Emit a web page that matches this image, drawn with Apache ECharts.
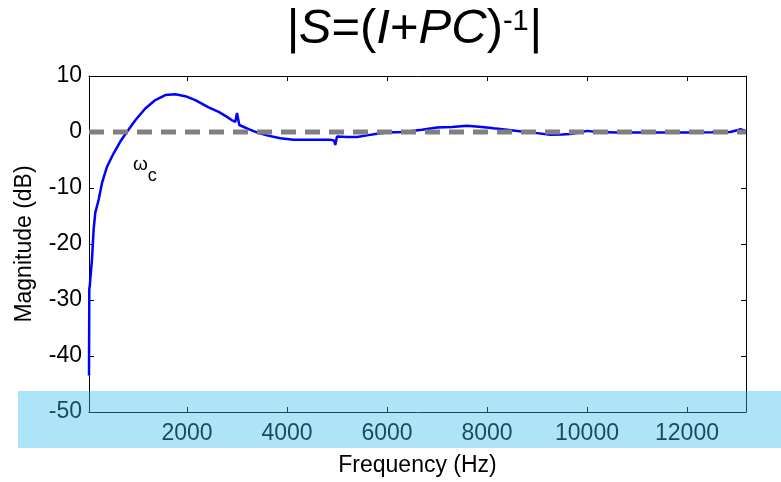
<!DOCTYPE html>
<html>
<head>
<meta charset="utf-8">
<script src="https://cdn.jsdelivr.net/npm/echarts@6/dist/echarts.min.js"></script>
<style>html,body{margin:0;padding:0;background:#fff}#c{width:781px;height:482px}</style>
</head>
<body>
<div id="c"></div>
<script>
// Frequency (Hz) samples and |S| magnitude (dB)
const freqHz = [40, 46, 46, 56, 66, 100, 133, 166, 233, 300, 400, 533, 666, 800, 966, 1166, 1366, 1566, 1766, 1966, 2166, 2433, 2633, 2800, 2900, 2966, 3000, 3046, 3233, 3433, 3600, 3866, 4133, 4500, 4866, 4940, 4966, 5000, 5200, 5400, 5600, 5800, 6000, 6330, 6700, 7000, 7300, 7600, 7900, 8133, 8400, 8733, 9000, 9266, 9500, 9666, 9850, 10000, 10200, 10600, 11000, 11500, 12000, 12500, 12866, 13000, 13066, 13180];
const magDb  = [-43.5, -43.5, -28, -27.5, -26.3, -22.7, -17.4, -14.4, -12.1, -9.1, -6.2, -3.8, -1.7, 0.05, 2.1, 4.2, 5.7, 6.6, 6.75, 6.4, 5.7, 4.4, 3.6, 2.7, 2.1, 1.8, 3.4, 1.25, 0.5, -0.2, -0.6, -1.1, -1.4, -1.4, -1.4, -1.5, -2.3, -0.8, -0.9, -0.9, -0.6, -0.3, -0.1, 0.0, 0.4, 0.8, 0.9, 1.1, 0.9, 0.65, 0.4, 0.05, -0.2, -0.5, -0.45, -0.35, -0.1, 0.2, 0.0, -0.1, -0.1, -0.1, -0.1, -0.05, 0.0, 0.3, 0.5, 0.2];
const refFreq = [40, 13180];
const refDb = [0, 0];
const xTicks = [2000, 4000, 6000, 8000, 10000, 12000];
const yMin = -50, yMax = 10, yStep = 10;
const xMin = 40, xMax = 13180;

const chart = echarts.init(document.getElementById('c'), null, {renderer: 'canvas'});
const F = 'Liberation Sans, Arial, sans-serif';
const curve = freqHz.map((f, i) => [f, magDb[i]]);
const refLine = refFreq.map((f, i) => [f, refDb[i]]);

chart.setOption({
  animation: false,
  backgroundColor: '#fff',
  title: {
    left: 281, top: -7,
    text: '{i||}{i|S}{n|=(}{i|I}{n|+}{i|PC}{n|)}{s|-1}{i||}',
    textStyle: {
      fontWeight: 'normal',
      rich: {
        n: {fontFamily: F, fontSize: 49, fontWeight: 'normal', color: '#000', lineHeight: 56, verticalAlign: 'bottom'},
        i: {fontFamily: F, fontSize: 49, fontWeight: 'normal', fontStyle: 'italic', color: '#000', lineHeight: 56, verticalAlign: 'bottom'},
        s: {fontFamily: F, fontSize: 29, fontWeight: 'normal', color: '#000', lineHeight: 40, padding: [9, 0, 0, 0], verticalAlign: 'top'}
      }
    }
  },
  grid: {left: 89, right: 35, top: 76, bottom: 68, containLabel: false},
  xAxis: [{
    type: 'value', min: xMin, max: xMax,
    name: 'Frequency (Hz)', nameLocation: 'middle', nameGap: 42,
    nameTextStyle: {fontFamily: F, fontSize: 23, color: '#000'},
    axisLine: {show: true, onZero: false, lineStyle: {color: '#000', width: 1}},
    axisTick: {show: true, inside: true, length: 5, customValues: xTicks, lineStyle: {color: '#000'}},
    axisLabel: {customValues: xTicks, formatter: v => String(v), fontFamily: F, fontSize: 23, color: '#000', margin: 10},
    splitLine: {show: false}
  }, {
    type: 'value', min: xMin, max: xMax, position: 'top',
    axisLine: {show: true, onZero: false, lineStyle: {color: '#000', width: 1}},
    axisTick: {show: true, inside: true, length: 5, customValues: xTicks, lineStyle: {color: '#000'}},
    axisLabel: {show: false}, splitLine: {show: false}
  }],
  yAxis: [{
    type: 'value', min: yMin, max: yMax, interval: yStep,
    name: 'Magnitude (dB)', nameLocation: 'middle', nameGap: 53,
    nameTextStyle: {fontFamily: F, fontSize: 23, color: '#000'},
    axisLine: {show: true, onZero: false, lineStyle: {color: '#000', width: 1}},
    axisTick: {show: true, inside: true, length: 5, lineStyle: {color: '#000'}},
    axisLabel: {fontFamily: F, fontSize: 23, color: '#000', margin: 7},
    splitLine: {show: false}
  }, {
    type: 'value', min: yMin, max: yMax, interval: yStep, position: 'right',
    axisLine: {show: true, onZero: false, lineStyle: {color: '#000', width: 1}},
    axisTick: {show: true, inside: true, length: 5, lineStyle: {color: '#000'}},
    axisLabel: {show: false}, splitLine: {show: false}
  }],
  series: [{
    type: 'line', data: curve, showSymbol: false, smooth: false,
    lineStyle: {color: '#0000ff', width: 2.5}, z: 2
  }, {
    type: 'line', data: refLine, showSymbol: false,
    lineStyle: {color: '#808080', width: 5, type: [15, 9]}, z: 3
  }],
  graphic: [{
    type: 'text', left: 133, top: 155, z: 10,
    style: {
      text: '{w|ω}{c|c}',
      rich: {
        w: {fontFamily: F, fontSize: 19, color: '#000', lineHeight: 24, verticalAlign: 'top'},
        c: {fontFamily: F, fontSize: 18, color: '#000', lineHeight: 30, verticalAlign: 'bottom'}
      }
    }
  }, {
    type: 'rect', z: 100, silent: true,
    shape: {x: 18, y: 391, width: 763, height: 57},
    style: {fill: 'rgba(50,188,235,0.4)'}
  }]
});
</script>
</body>
</html>
